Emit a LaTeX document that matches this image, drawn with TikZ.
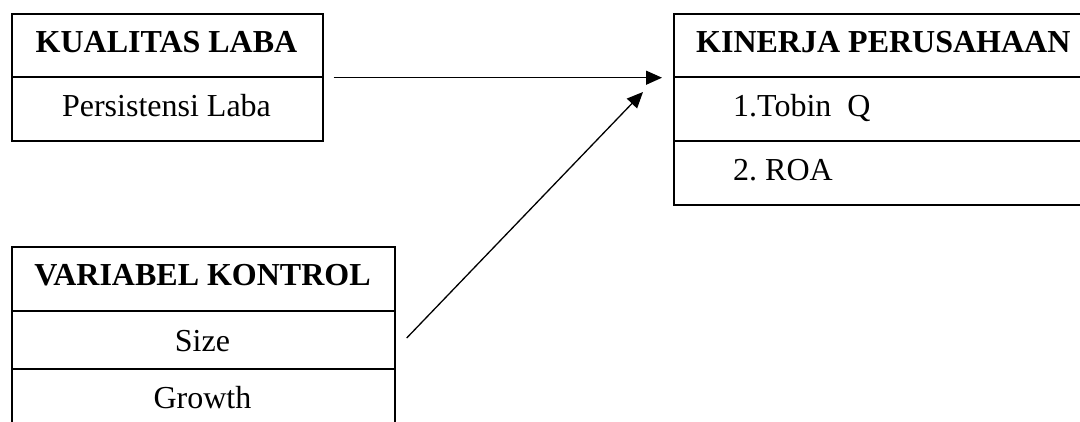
\documentclass[tikz,border=0pt]{standalone}
\usepackage{fontspec}
\setmainfont{Liberation Serif}
\usetikzlibrary{arrows.meta}
\begin{document}
\begin{tikzpicture}[x=1pt,y=-1pt,
  cell/.style={draw, line width=1.7pt, rectangle, inner sep=0pt, anchor=north west},
  lbl/.style={anchor=base, inner sep=0pt, font=\fontsize{32}{38}\selectfont},
  hdr/.style={lbl, font=\fontsize{32}{38}\selectfont\bfseries},
  link/.style={line width=1.3pt, -{Triangle[length=16pt,width=14pt]}}]
\useasboundingbox (0,0) rectangle (1080,421);
\fill[white] (0,0) rectangle (1080,421);

% Kualitas laba table
\node[cell, minimum width=311pt, minimum height=63pt] (kl-head) at (11,13) {};
\node[cell, minimum width=311pt, minimum height=64pt] (kl-body) at (11,76) {};
\node[hdr] (kl-title) at (166.5,52) {KUALITAS LABA};
\node[lbl] (kl-item) at (166.5,116) {Persistensi Laba};

% Kinerja perusahaan table (runs off the right edge)
\node[cell, minimum width=420pt, minimum height=63pt] (kp-head) at (673,13) {};
\node[cell, minimum width=420pt, minimum height=64pt] (kp-item1) at (673,76) {};
\node[cell, minimum width=420pt, minimum height=64pt] (kp-item2) at (673,140) {};
\node[hdr, anchor=base west] (kp-title) at (696,52) {KINERJA PERUSAHAAN};
\node[lbl, anchor=base west] (kp-tobin) at (733,116) {1.Tobin\ \ Q};
\node[lbl, anchor=base west] (kp-roa) at (733,180) {2.\ ROA};

% Variabel kontrol table (runs off the bottom edge)
\node[cell, minimum width=383pt, minimum height=64pt] (vk-head) at (11,246) {};
\node[cell, minimum width=383pt, minimum height=58pt] (vk-size) at (11,310) {};
\node[cell, minimum width=383pt, minimum height=70pt] (vk-growth) at (11,368) {};
\node[hdr] (vk-title) at (202.5,285) {VARIABEL KONTROL};
\node[lbl] (vk-sz) at (202.5,351) {Size};
\node[lbl] (vk-gr) at (202.5,408) {Growth};

% Connectors
\coordinate (a1s) at ([xshift=10pt]kl-head.south east);
\coordinate (a1e) at ([xshift=-11pt]kp-head.south west);
\coordinate (a2s) at ([xshift=11pt,yshift=-28pt]vk-size.north east);
\coordinate (a2e) at ([xshift=-30pt,yshift=-16pt]kp-item1.north west);
\draw[link] (a1s) -- (a1e);
\draw[link] (a2s) -- (a2e);
\end{tikzpicture}
\end{document}
